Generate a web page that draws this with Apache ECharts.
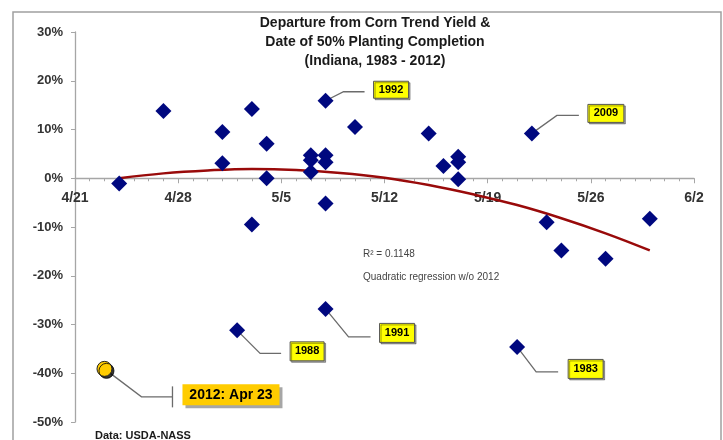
<!DOCTYPE html>
<html>
<head>
<meta charset="UTF-8">
<title>Departure from Corn Trend Yield</title>
<style>
  * { margin: 0; padding: 0; }
  #main { width: 723px; height: 440px; background: #fff; }
</style>
<script src="https://cdn.jsdelivr.net/npm/echarts@6/dist/echarts.min.js"></script>
</head>
<body>
<div id="main"></div>
<script>
// weekly ticks on the date axis
var tickLabels = ['4/21', '4/28', '5/5', '5/12', '5/19', '5/26', '6/2'];

// date of 50% planting and yield departure (%), 1983 - 2011
var plantDates = ['4/24', '4/27', '5/1', '5/1', '5/3', '5/3', '5/4', '5/4',
                  '5/8', '5/10', '5/7', '5/7', '5/7', '5/8', '5/8', '5/8',
                  '5/15', '5/16', '5/17', '5/17', '5/17', '5/22', '5/23', '5/24',
                  '5/27', '5/30', '5/2', '5/8', '5/21'];
var departures = [-1.1, 13.8, 9.5, 3.1, 14.2, -9.5, 7.1, 0.0,
                  15.9, 10.5, 4.7, 3.7, 1.3, 4.7, 3.3, -5.2,
                  9.2, 2.5, 4.4, 3.3, -0.2, 9.2, -9.0, -14.8,
                  -16.5, -8.3, -31.2, -26.8, -34.6];
var yearTags = ['', '', '', '', '', '', '', '',
                '1992', '', '', '', '', '', '', '',
                '', '', '', '', '', '2009', '', '',
                '', '', '1988', '1991', '1983'];

// 2012 plotted on its own
var date2012 = '4/23';
var dep2012 = -39.1;
var tag2012 = '2012: Apr 23';

// quadratic regression w/o 2012
var trendDates = ['4/24', '4/27', '4/30', '5/3', '5/6', '5/9', '5/12',
                  '5/15', '5/18', '5/21', '5/24', '5/27', '5/30'];
var trendValues = [0.0, 1.0, 1.6, 1.9, 1.7, 1.1, 0.1,
                   -1.4, -3.3, -5.5, -8.2, -11.3, -14.8];

var yMin = -50, yMax = 30;

// days after 4/21
function toDay(s) {
  var p = s.split('/');
  var m = +p[0], d = +p[1];
  if (m === 4) return d - 21;
  if (m === 5) return d + 9;
  return d + 40;
}

// leader line / box placement relative to the point (pixels)
var calloutLayout = {
  '1992': { bend: [18, -9], end: 39, box: [48, -11, 35, 17] },
  '2009': { bend: [25, -18], end: 47, box: [56, -20, 36, 18] },
  '1988': { bend: [23, 23], end: 44, box: [53, 21, 34, 19] },
  '1991': { bend: [23, 28], end: 45, box: [54, 24, 35, 19] },
  '1983': { bend: [19, 25], end: 41, box: [51, 22, 35, 19] },
  '2012: Apr 23': { bend: [37, 28], end: 68, bar: 21, box: [78, 26, 97, 21] }
};

var FONT = "'Liberation Sans', Arial, sans-serif";
var gridTop = 32, gridBottom = 18, H = 440;
// lift the date axis up to the 0% line
var zeroOffset = -(H - gridTop - gridBottom) * (0 - yMin) / (yMax - yMin);

var points = plantDates.map(function (d, i) { return [toDay(d), departures[i]]; });
var trend = trendDates.map(function (d, i) { return [toDay(d), trendValues[i]]; });

var callouts = [];
yearTags.forEach(function (t, i) {
  if (t) callouts.push({ x: toDay(plantDates[i]), y: departures[i], tag: t });
});
callouts.push({ x: toDay(date2012), y: dep2012, tag: tag2012 });

function renderCallout(params, api) {
  var c = callouts[params.dataIndex];
  var L = calloutLayout[c.tag];
  var p = api.coord([api.value(0), api.value(1)]);
  var by = p[1] + L.bend[1];
  var big = c.tag === tag2012;
  var kids = [{
    type: 'polyline',
    shape: { points: [p, [p[0] + L.bend[0], by], [p[0] + L.end, by]] },
    style: { stroke: '#6b6b6b', lineWidth: 1.3, fill: null }
  }];
  if (L.bar) {
    kids.push({
      type: 'line',
      shape: { x1: p[0] + L.end, y1: by - L.bar / 2, x2: p[0] + L.end, y2: by + L.bar / 2 },
      style: { stroke: '#6b6b6b', lineWidth: 1.3 }
    });
  }
  var bx = p[0] + L.box[0], cy = p[1] + L.box[1], w = L.box[2], h = L.box[3];
  kids.push({
    type: 'rect',
    shape: { x: bx, y: cy - h / 2, width: w, height: h },
    style: {
      fill: big ? '#ffcc00' : '#ffff00',
      stroke: big ? null : '#555',
      lineWidth: 1,
      shadowColor: 'rgba(0,0,0,0.35)',
      shadowOffsetX: big ? 3 : 1.5,
      shadowOffsetY: big ? 3 : 1.5
    }
  });
  kids.push({
    type: 'text',
    style: {
      text: c.tag,
      x: bx + w / 2,
      y: cy,
      align: 'center',
      verticalAlign: 'middle',
      font: 'bold ' + (big ? 14 : 11) + 'px ' + FONT,
      fill: '#000'
    }
  });
  return { type: 'group', children: kids };
}

var myChart = echarts.init(document.getElementById('main'));
var option = {
  animation: false,
  backgroundColor: '#fff',
  grid: { left: 75, right: 29, top: gridTop, bottom: gridBottom },
  graphic: [
    {
      type: 'rect', z: -10,
      shape: { x: 13, y: 12, width: 708, height: 440 },
      style: { fill: null, stroke: '#a0a0a0', lineWidth: 1.5 }
    },
    {
      type: 'text', x: 375, y: 14,
      style: {
        text: 'Departure from Corn Trend Yield &\nDate of 50% Planting Completion\n(Indiana, 1983 - 2012)',
        align: 'center', font: 'bold 14px ' + FONT, lineHeight: 19, fill: '#1a1a1a'
      }
    },
    {
      type: 'text', x: 363, y: 249,
      style: { text: 'R² = 0.1148', font: '10px ' + FONT, fill: '#444' }
    },
    {
      type: 'text', x: 363, y: 272,
      style: { text: 'Quadratic regression w/o 2012', font: '10px ' + FONT, fill: '#444' }
    },
    {
      type: 'text', x: 95, y: 430,
      style: { text: 'Data: USDA-NASS', font: 'bold 11px ' + FONT, fill: '#1a1a1a' }
    }
  ],
  xAxis: {
    type: 'value',
    position: 'bottom',
    offset: zeroOffset,
    min: 0, max: 42, interval: 7,
    axisLine: { onZero: false, lineStyle: { color: '#a6a6a6', width: 1.3 } },
    axisTick: { show: true, length: 5, lineStyle: { color: '#a6a6a6' } },
    minorTick: { show: true, splitNumber: 7, length: 3, lineStyle: { color: '#a6a6a6' } },
    splitLine: { show: false },
    axisLabel: {
      margin: 13,
      fontFamily: FONT, fontWeight: 'bold', fontSize: 14, color: '#333',
      formatter: function (v) { return tickLabels[Math.round(v / 7)]; }
    }
  },
  yAxis: {
    type: 'value',
    min: yMin, max: yMax, interval: 10,
    axisLine: { show: true, lineStyle: { color: '#a6a6a6', width: 1.3 } },
    axisTick: { show: true, length: 4, lineStyle: { color: '#a6a6a6' } },
    splitLine: { show: false },
    axisLabel: {
      margin: 12,
      fontFamily: FONT, fontWeight: 'bold', fontSize: 13, color: '#333',
      formatter: '{value}%'
    }
  },
  series: [
    {
      name: 'callouts',
      type: 'custom',
      z: 1,
      silent: true,
      clip: false,
      renderItem: renderCallout,
      data: callouts.map(function (c) { return [c.x, c.y]; })
    },
    {
      name: 'trend',
      type: 'line',
      z: 2,
      smooth: 0.4,
      showSymbol: false,
      lineStyle: { color: '#990a0a', width: 2.5 },
      data: trend
    },
    {
      name: '1983-2011',
      type: 'scatter',
      z: 3,
      symbol: 'diamond',
      symbolSize: 16,
      itemStyle: { color: '#00087f', opacity: 1 },
      data: points
    },
    {
      name: '2012',
      type: 'scatter',
      z: 3,
      symbol: 'circle',
      symbolSize: 15,
      itemStyle: {
        color: '#ffcc00', borderColor: '#222', borderWidth: 1,
        shadowColor: 'rgba(0,0,0,0.8)', shadowOffsetX: 2, shadowOffsetY: 2, opacity: 1
      },
      data: [[toDay(date2012), dep2012]]
    }
  ]
};
myChart.setOption(option);
</script>
</body>
</html>
